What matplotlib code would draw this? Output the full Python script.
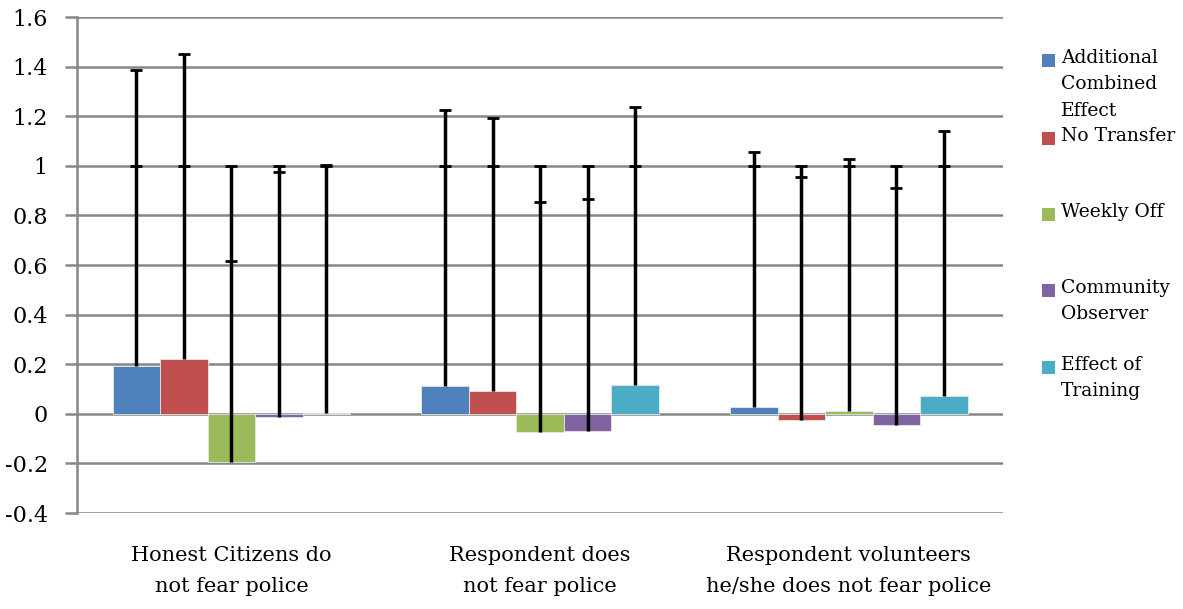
import matplotlib.pyplot as plt
from matplotlib.patches import Rectangle
import numpy as np

# 数据
categories = ['Honest Citizens do\nnot fear police',
              'Respondent does\nnot fear police',
              'Respondent volunteers\nhe/she does not fear police']
series = ['Additional\nCombined\nEffect', 'No Transfer', 'Weekly Off',
          'Community\nObserver', 'Effect of\nTraining']
colors = ['#4F81BD', '#C0504D', '#9BBB59', '#8064A2', '#4BACC6']

# 每组各系列的估计值
additional = [0.191, 0.112, 0.028]
no_transfer = [0.222, 0.094, -0.023]
weekly_off = [-0.195, -0.074, 0.012]
community = [-0.013, -0.069, -0.046]
training = [0.003, 0.116, 0.071]

# 上置信界（误差线顶端）
additional_hi = [1.388, 1.226, 1.056]
no_transfer_hi = [1.449, 1.193, 0.953]
weekly_off_hi = [0.615, 0.855, 1.027]
community_hi = [0.976, 0.867, 0.910]
training_hi = [1.004, 1.236, 1.142]

# 另一条误差线统一在 1 处封顶
ref_cap = 1.0

values = [additional, no_transfer, weekly_off, community, training]
highs = [additional_hi, no_transfer_hi, weekly_off_hi, community_hi, training_hi]

plt.rcParams['font.family'] = ['DejaVu Serif']

fig = plt.figure(figsize=(11.83, 6.09), dpi=100)
ax = fig.add_axes([0.0651, 0.1576, 0.848 - 0.0651, 0.972 - 0.1576])

x = np.arange(len(categories))
n = len(series)
width = 1 / (n + 1.5)

for i in range(n):
    pos = x + (i - (n - 1) / 2) * width
    v = np.array(values[i])
    hi = np.array(highs[i])
    ax.bar(pos, v, width, color=colors[i], edgecolor='#e8e8e8', linewidth=0.6, zorder=2)
    top = np.maximum(hi, ref_cap)
    ax.vlines(pos, v, top, color='black', linewidth=2.5, zorder=3)
    ax.plot(pos, [ref_cap] * len(pos), linestyle='none', marker='_',
            markersize=9, markeredgewidth=2, color='black', zorder=3)
    ax.plot(pos, hi, linestyle='none', marker='_',
            markersize=9, markeredgewidth=2, color='black', zorder=3)

ax.set_xlim(-0.5, len(categories) - 0.5)
ax.set_ylim(-0.4, 1.6)
ax.set_yticks(np.arange(-0.4, 1.61, 0.2))
ax.set_yticklabels(['-0.4', '-0.2', '0', '0.2', '0.4', '0.6', '0.8', '1', '1.2', '1.4', '1.6'])
ax.yaxis.grid(True, color='#868686', linewidth=1.8, zorder=0)
ax.set_axisbelow(True)
ax.set_xticks(x)
ax.set_xticklabels(categories, fontsize=15, linespacing=1.75)
ax.tick_params(axis='x', length=0, pad=24)
ax.tick_params(axis='y', length=9, width=1.8, color='#868686', labelsize=16, pad=12)
for s in ['top', 'right', 'bottom']:
    ax.spines[s].set_visible(False)
ax.spines['left'].set_color('#868686')
ax.spines['left'].set_linewidth(1.8)

# 图例（手动，文字顶部对齐）
leg_y = [60, 138, 214, 290, 367]
W, H = 1183, 609
for i in range(n):
    yc = leg_y[i]
    fig.patches.append(Rectangle((1042 / W, 1 - (yc + 7) / H), 13 / W, 13 / H,
                                 transform=fig.transFigure, facecolor=colors[i],
                                 edgecolor='none', figure=fig))
    fig.text(1061 / W, 1 - (yc - 11) / H, series[i], fontsize=13.5, va='top',
             ha='left', linespacing=1.6)

fig.savefig('out.png', dpi=100)
